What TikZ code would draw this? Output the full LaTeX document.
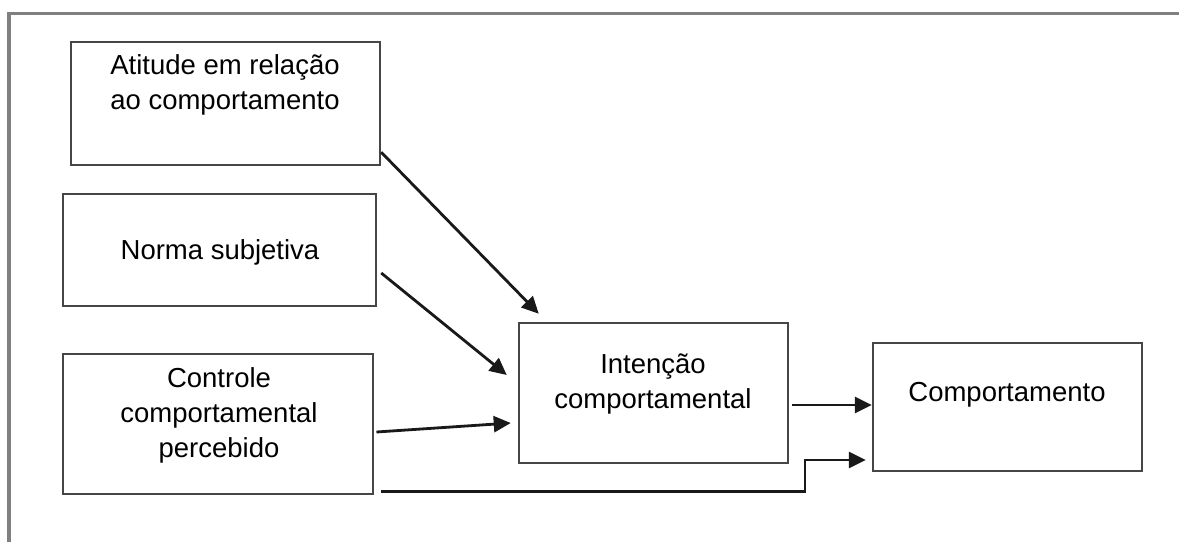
\documentclass[tikz,border=0pt]{standalone}
\usepackage{fontspec}
\setmainfont{Liberation Sans}
\usetikzlibrary{arrows.meta}
\definecolor{boxline}{RGB}{70,70,70}
\definecolor{frameline}{RGB}{128,128,128}
\begin{document}
\begin{tikzpicture}[x=1pt,y=-1pt,
  box/.style={draw=boxline,line width=2.5pt,rectangle,inner sep=0pt},
  lbl/.style={align=center,inner sep=0pt,font=\fontsize{27.5}{35}\selectfont,text=black},
  conn/.style={draw=black!90,line width=2.8pt,-{Triangle[length=17pt,width=16pt]}}]
\useasboundingbox (0,0) rectangle (1179,542);
% frame
\draw[frameline,line width=3.5pt] (9,542) -- (9,13.5) -- (1179,13.5);
% boxes
\node[box,minimum width=309pt,minimum height=123pt] (b1) at (225.4,103.4) {};
\node[box,minimum width=313pt,minimum height=112pt] (b2) at (219.5,250) {};
\node[box,minimum width=310pt,minimum height=140pt] (b3) at (218.2,424) {};
\node[box,minimum width=269pt,minimum height=140pt] (b4) at (653.5,393) {};
\node[box,minimum width=269pt,minimum height=128pt] (b5) at (1007.5,407) {};
% labels
\node[lbl] (t1) at (225,85) {Atitude em relação\\ao comportamento};
\node[lbl] (t2) at (220,252) {Norma subjetiva};
\node[lbl] (t3) at (219,415) {Controle\\comportamental\\percebido};
\node[lbl] (t4) at (653,384) {Intenção\\comportamental};
\node[lbl] (t5) at (1007,395) {Comportamento};
% connectors
\draw[conn] ([yshift=14pt]b1.south east) -- ([shift={(21pt,8pt)}]b4.north west);
\draw[conn] ([shift={(4pt,-23pt)}]b2.east) -- ([shift={(-11pt,18pt)}]b4.west);
\draw[conn] ([shift={(2pt,-8pt)}]b3.east) -- ([shift={(-7pt,-30pt)}]b4.west);
\draw[conn] ([shift={(3pt,-12pt)}]b4.east) -- ([yshift=2pt]b5.west);
\coordinate (k) at (805,460);
\draw[conn] ([shift={(7pt,4pt)}]b3.south east) -| (k) -- ([xshift=-6pt]k -| b5.west);
\end{tikzpicture}
\end{document}
